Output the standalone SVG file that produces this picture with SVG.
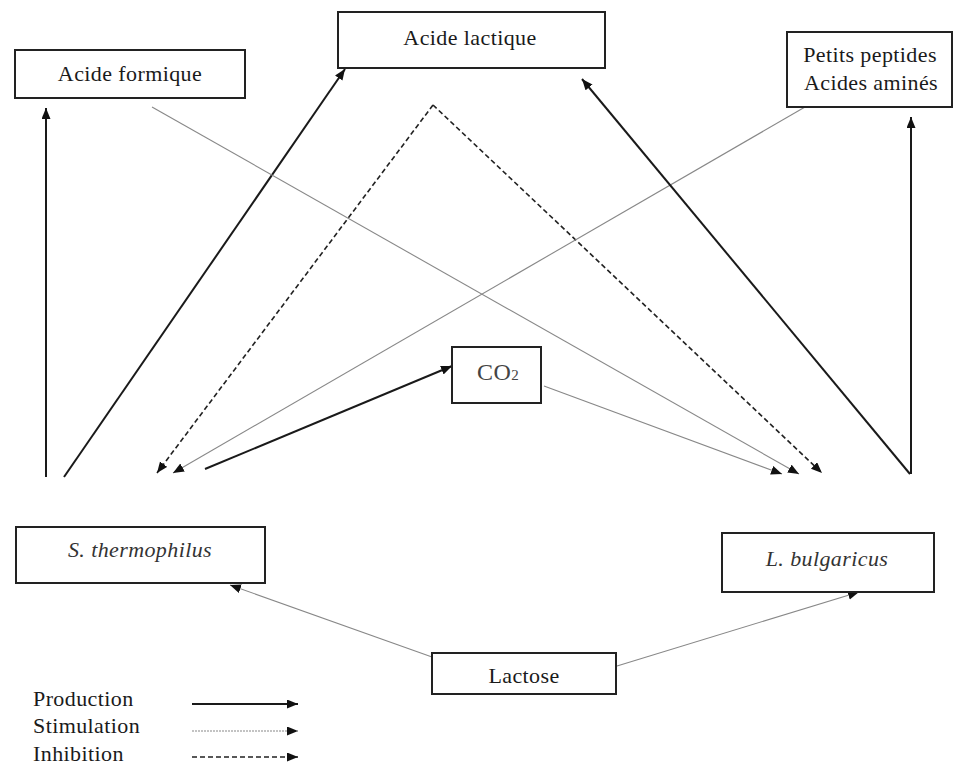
<svg xmlns="http://www.w3.org/2000/svg" width="953" height="770" viewBox="0 0 953 770">
<style>
.box{fill:#fff;stroke:#222;stroke-width:2}
.t{font-family:"Times New Roman","Liberation Serif","DejaVu Serif",serif;font-size:22px;fill:#1a1a1a;letter-spacing:0.4px}
.c{text-anchor:middle}
.it{font-style:italic;fill:#333}
.prod{stroke:#1a1a1a;stroke-width:2;fill:none}
.stim{stroke:#888;stroke-width:1.1;fill:none}
.inh{stroke:#222;stroke-width:1.6;stroke-dasharray:5 3;fill:none}
</style>
<defs>
<marker id="ah" markerUnits="userSpaceOnUse" markerWidth="12" markerHeight="10" refX="11" refY="4.5" orient="auto">
<path d="M0,0 L11,4.5 L0,9 z" fill="#111"/>
</marker>
</defs>
<rect width="953" height="770" fill="#fff"/>
<g id="connectors">
<path class="prod" d="M46,477 L46,108" marker-end="url(#ah)"/>
<path class="prod" d="M64,477 L345,69" marker-end="url(#ah)"/>
<path class="inh" d="M433,105 L157,473" marker-end="url(#ah)"/>
<path class="inh" d="M433,105 L822,473" marker-end="url(#ah)"/>
<path class="stim" d="M805,107 L173,473" marker-end="url(#ah)"/>
<path class="prod" d="M205,469 L452,366" marker-end="url(#ah)"/>
<path class="stim" d="M152,107 L799,474" marker-end="url(#ah)"/>
<path class="stim" d="M544,386 L782,474" marker-end="url(#ah)"/>
<path class="prod" d="M910,474 L582,79" marker-end="url(#ah)"/>
<path class="prod" d="M911,474 L911,117" marker-end="url(#ah)"/>
<path class="stim" d="M432,657 L230,585" marker-end="url(#ah)"/>
<path class="stim" d="M617,666 L859,592" marker-end="url(#ah)"/>
</g>
<g id="acide-formique">
<rect class="box" x="15" y="50" width="230" height="48"/>
<text class="t c" x="130" y="81">Acide formique</text>
</g>
<g id="acide-lactique">
<rect class="box" x="338" y="12" width="267" height="56"/>
<text class="t c" x="470" y="45">Acide lactique</text>
</g>
<g id="peptides">
<rect class="box" x="787" y="32" width="165" height="75"/>
<text class="t c" x="870" y="62">Petits peptides</text>
<text class="t c" x="871" y="90">Acides aminés</text>
</g>
<g id="co2">
<rect class="box" x="452" y="347" width="89" height="56"/>
<text class="t" x="477" y="380" style="fill:#444;font-size:24px">CO<tspan font-size="15">2</tspan></text>
</g>
<g id="s-thermophilus">
<rect class="box" x="16" y="527" width="249" height="56"/>
<text class="t c it" x="140" y="557">S. thermophilus</text>
</g>
<g id="l-bulgaricus">
<rect class="box" x="722" y="533" width="212" height="59"/>
<text class="t c it" x="827" y="566">L. bulgaricus</text>
</g>
<g id="lactose">
<rect class="box" x="432" y="653" width="184" height="41"/>
<text class="t c" x="524" y="683">Lactose</text>
</g>
<g id="legend">
<text class="t" x="33" y="706">Production</text>
<text class="t" x="33" y="733">Stimulation</text>
<text class="t" x="33" y="761">Inhibition</text>
<path class="prod" d="M192,704 L298,704" marker-end="url(#ah)"/>
<path class="stim" d="M192,731 L298,731" style="stroke-dasharray:2 1" marker-end="url(#ah)"/>
<path class="inh" d="M192,757 L298,757" marker-end="url(#ah)"/>
</g>
</svg>
